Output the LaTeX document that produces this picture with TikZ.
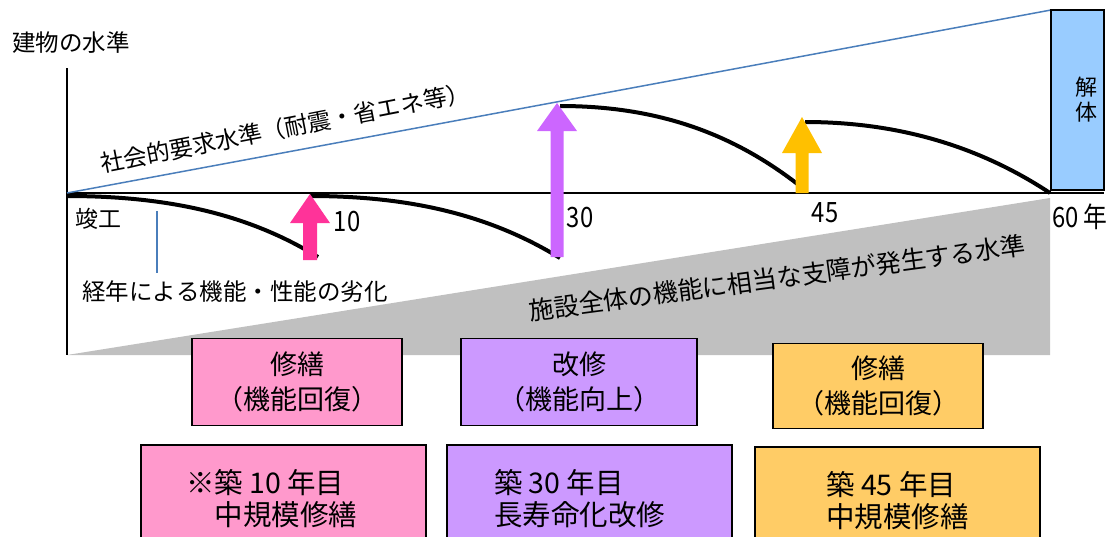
\documentclass[tikz,border=0pt]{standalone}
\usepackage{fontspec}
\setmainfont{Noto Sans CJK JP}[Kerning=Off]

\begin{document}
\begin{tikzpicture}[x=1pt,y=1pt,yscale=-1,xscale=1,
    axisline/.style={line width=2pt},
    reqline/.style={color={rgb, 255:red, 74; green, 126; blue, 187 }, line width=1.5pt},
    wearline/.style={line width=4pt},
    lbl/.style={inner sep=0pt, font=\fontsize{23.5}{25}\selectfont},
    numlbl/.style={inner sep=0pt, xscale=0.85, font=\fontsize{28}{30}\selectfont},
    workbox/.style={draw, line width=1.5pt, align=center, inner sep=0pt, font=\fontsize{27}{35}\selectfont},
    yearbox/.style={draw, line width=1.5pt, align=left, inner sep=0pt, minimum width=285pt, minimum height=108pt, font=\fontsize{28.5}{32}\selectfont}]
                \useasboundingbox (0,0) rectangle (1115,536);
                \clip (0,0) rectangle (1115,536);

                %Shape: Polygon [id:limitzone]
                \fill [color={rgb, 255:red, 192; green, 192; blue, 192 }] (67,355) -- (1050,198) -- (1050,355) -- cycle ;
                %Straight Lines [id:axes]
                \draw [axisline]   (67,68) -- (67,355) ;
                \draw [axisline]   (67,193) -- (1104,193) ;
                %Straight Lines [id:request]
                \draw [reqline]   (67,193) -- (1051,10) ;
                %Shape: Rectangle [id:demolish]
                \draw [line width=1.5pt, fill={rgb, 255:red, 153; green, 204; blue, 255 }]  (1051,10) rectangle (1104,190) ;

                %Curve Lines [id:wear1]
                \draw [wearline]   (67,196) .. controls (170,196) and (250,215) .. (318,257) ;
                %Curve Lines [id:wear2]
                \draw [wearline]   (310,196) .. controls (410,196) and (490,215) .. (560,258) ;
                %Curve Lines [id:wear3]
                \draw [wearline]   (560,106) .. controls (660,106) and (735,135) .. (800,186) ;
                %Curve Lines [id:wear4]
                \draw [wearline]   (805,122) .. controls (905,122) and (985,150) .. (1050,193) ;

                %Shape: Up Arrow [id:up10]
                \fill [color={rgb, 255:red, 255; green, 51; blue, 153 }] (310,194) -- (330,223) -- (317,223) -- (317,260) -- (303,260) -- (303,223) -- (290,223) -- cycle ;
                %Shape: Up Arrow [id:up30]
                \fill [color={rgb, 255:red, 204; green, 102; blue, 255 }] (557,103) -- (577,131) -- (563.5,131) -- (563.5,257) -- (550.5,257) -- (550.5,131) -- (537,131) -- cycle ;
                %Shape: Up Arrow [id:up45]
                \fill [color={rgb, 255:red, 255; green, 192; blue, 0 }] (802,117) -- (822,153) -- (808.5,153) -- (808.5,193) -- (795.5,193) -- (795.5,153) -- (782,153) -- cycle ;

                % Text Node
                \node [lbl, anchor=west] (lvl) at (12,43) {建物の水準};
                % Text Node
                \node [lbl, rotate=11] (req) at (285,128) {社会的要求水準（耐震・省エネ等）};
                % Text Node
                \node [lbl, anchor=west, font=\fontsize{23}{25}\selectfont] (done) at (75,219) {竣工};
                % Text Node
                \node [numlbl] (yr10) at (347,222) {10};
                % Text Node
                \node [numlbl] (yr30) at (580,218) {30};
                % Text Node
                \node [numlbl] (yr45) at (825,213) {45};
                % Text Node
                \node [numlbl, anchor=west] (yr60) at (1052,217) {60 年};
                % Text Node
                \node [lbl, align=center, font=\fontsize{22}{25}\selectfont] (demo) at (1086,100) {解\\体};
                % Text Node
                \node [lbl, anchor=west] (wear) at (82,292) {経年による機能・性能の劣化};
                % Text Node
                \node [inner sep=0pt, font=\fontsize{25}{28}\selectfont, rotate=7.6] (limit) at (777,278) {施設全体の機能に相当な支障が発生する水準};

                %Straight Lines [id:wearptr]
                \coordinate (weartop) at (157,211);
                \coordinate (wearbot) at (157,273);
                \draw [reqline, line width=1.2pt]   (weartop) -- (wearbot) ;

                %Shape: Rectangle [id:rep10]
                \node [workbox, minimum width=210pt, minimum height=87pt, fill={rgb, 255:red, 255; green, 153; blue, 204 }] (rep10) at (297,382) {修繕\\（機能回復）};
                %Shape: Rectangle [id:ren30]
                \node [workbox, minimum width=236pt, minimum height=87pt, fill={rgb, 255:red, 204; green, 153; blue, 255 }] (ren30) at (579,382) {改修\\（機能向上）};
                %Shape: Rectangle [id:rep45]
                \node [workbox, minimum width=210pt, minimum height=85pt, fill={rgb, 255:red, 255; green, 204; blue, 102 }] (rep45) at (878,386) {修繕\\（機能回復）};

                %Shape: Rectangle [id:plan10]
                \node [yearbox, fill={rgb, 255:red, 255; green, 153; blue, 204 }] (plan10) at (283.5,499) {\hspace*{-24pt}※築 10 年目\\\hspace*{-24pt}　中規模修繕};
                %Shape: Rectangle [id:plan30]
                \node [yearbox, fill={rgb, 255:red, 204; green, 153; blue, 255 }] (plan30) at (589.5,499) {\hspace*{-20pt}築 30 年目\\\hspace*{-20pt}長寿命化改修};
                %Shape: Rectangle [id:plan45]
                \node [yearbox, fill={rgb, 255:red, 255; green, 204; blue, 102 }] (plan45) at (897.5,501) {築 45 年目\\中規模修繕};

\end{tikzpicture}
\end{document}
